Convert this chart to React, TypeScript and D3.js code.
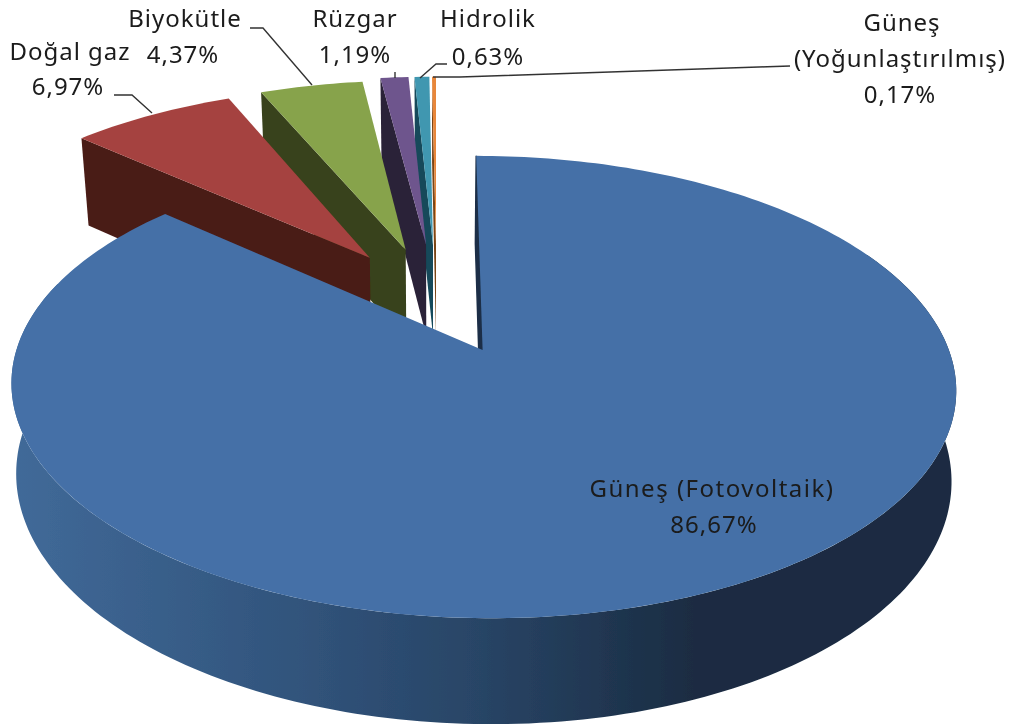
import React from 'react';
import * as d3 from 'd3';

// data, clockwise from 12 o'clock
const sliceNames = ['Güneş (Fotovoltaik)', 'Doğal gaz', 'Biyokütle', 'Rüzgar', 'Hidrolik', 'Güneş (Yoğunlaştırılmış)'];
const sliceValues = [86.67, 6.97, 4.37, 1.19, 0.63, 0.17];
const topColors = ['#4470a7', '#a5433f', '#87a34b', '#6e548d', '#3f97b0', '#e8873a'];
const sideColors = ['#1c2f47', '#4a1b17', '#38421b', '#2c2238', '#134a5a', '#7a4415'];
// how far each slice is pulled out of the pie, in pie radii
const explodeU = [0.1, -0.152, -0.07, -0.023, -0.007, 0];
const explodeV = [-0.155, 0.283, 0.324, 0.35, 0.35, 0.35];

const width = 1018;
const height = 724;

// fitted perspective of the Excel 3D pie
const originX = 436;
const originY = 316;
const persp = 0.156;
const scaleU = d3.scaleLinear().domain([-1, 1]).range([originX - 455, originX + 455]);
const scaleV = d3.scaleLinear().domain([-1, 1]).range([originY + 214.5, originY - 214.5]);

type Pt = [number, number];

const project = (u: number, v: number): Pt => {
  const w = 1 + persp * v;
  return [scaleU(u / w), scaleV(v / w)];
};

// same plane point pushed down to the bottom face of the pie
const projectBottom = (u: number, v: number): Pt => {
  const w = 1 + persp * v;
  const [x, y] = project(u, v);
  return [originX + (x - originX) * 0.98, y + 42 + 52 / w];
};

// lower rim of the big slice, it narrows around its own middle
const projectWall = (u: number, v: number): Pt => {
  const w = 1 + persp * v;
  const [x, y] = project(u, v);
  return [484 + (x - 484) * 0.99, y + 91 / w - 5];
};

const line = d3.line<Pt>().curve(d3.curveLinearClosed);

const slices = d3.pie<number>().sort(null)(sliceValues).map((s, i) => ({
  index: i,
  start: s.startAngle,
  end: s.endAngle,
  du: explodeU[i],
  dv: explodeV[i],
}));

const arcAngles = (a: number, b: number) => {
  const n = Math.max(2, Math.ceil(Math.abs(b - a) / 0.02));
  return d3.range(n + 1).map(k => a + ((b - a) * k) / n);
};

const App = () => {
  const main = slices[0];
  const backOrder = slices.slice(1).reverse();

  const rim = (s: typeof main, a: number, fn = project): Pt =>
    fn(s.du + Math.sin(a), s.dv + Math.cos(a));

  const topFace = (s: typeof main) =>
    line([project(s.du, s.dv), ...arcAngles(s.start, s.end).map(a => rim(s, a))]);

  const radialFace = (s: typeof main, a: number) =>
    line([project(s.du, s.dv), rim(s, a), rim(s, a, projectBottom), projectBottom(s.du, s.dv)]);

  // outer wall of the big slice, the top face hides what sticks up
  const wallAngles = arcAngles(Math.PI * 0.35, Math.PI * 1.6);
  const wall = line([
    ...wallAngles.map(a => rim(main, a)),
    ...wallAngles.slice().reverse().map(a => rim(main, a, projectWall)),
  ]);

  const fontFamily = '"Noto Sans", sans-serif';

  return (
    <svg width={width} height={height} style={{ position: 'absolute', left: 0, top: 0, background: '#fff' }}>
      <defs>
        <linearGradient id="wallGrad" gradientUnits="userSpaceOnUse" x1="10" x2="960" y1="0" y2="0">
          <stop offset="0" stopColor="#416a99" />
          <stop offset="0.3" stopColor="#31547c" />
          <stop offset="0.5" stopColor="#284465" />
          <stop offset="0.72" stopColor="#1a2c42" />
          <stop offset="1" stopColor="#1a2c42" />
        </linearGradient>
        <filter id="soft" x="0" y="0" width="100%" height="100%">
          <feGaussianBlur stdDeviation="0.5" />
        </filter>
      </defs>

      <g filter="url(#soft)">
        {backOrder.map(s => (
          <g key={s.index}>
            <path d={radialFace(s, s.start) || ''} fill={sideColors[s.index]} />
            <path d={topFace(s) || ''} fill={topColors[s.index]} />
          </g>
        ))}

        <path d={wall || ''} fill="url(#wallGrad)" />
        <path d={radialFace(main, 0) || ''} fill={sideColors[0]} stroke={sideColors[0]} strokeWidth={1.5} />
        <path d={topFace(main) || ''} fill={topColors[0]} />

        {/* leader lines */}
        <g fill="none" stroke="#333" strokeWidth={1.4}>
          <polyline points="114,95 132,95 152,113" />
          <polyline points="250,28 263,28 312,85" />
          <polyline points="395,72 395,78" />
          <polyline points="447,64 436,64 420,78" />
          <polyline points="790,66 460,77 433,77" />
        </g>

        <g fontFamily={fontFamily} fontSize={24} letterSpacing={1} fill="#1a1a1a" textAnchor="middle">
          <text x={70} y={60}>{sliceNames[1]}</text>
          <text x={68} y={95}>6,97%</text>
          <text x={185} y={27}>{sliceNames[2]}</text>
          <text x={183} y={63}>4,37%</text>
          <text x={355} y={27}>{sliceNames[3]}</text>
          <text x={355} y={63}>1,19%</text>
          <text x={488} y={27}>{sliceNames[4]}</text>
          <text x={488} y={65}>0,63%</text>
          <text x={902} y={31}>Güneş</text>
          <text x={900} y={67}>(Yoğunlaştırılmış)</text>
          <text x={900} y={103}>0,17%</text>
          <text x={712} y={497} letterSpacing={1.5}>{sliceNames[0]}</text>
          <text x={714} y={533}>86,67%</text>
        </g>
      </g>
    </svg>
  );
};

export default App;
